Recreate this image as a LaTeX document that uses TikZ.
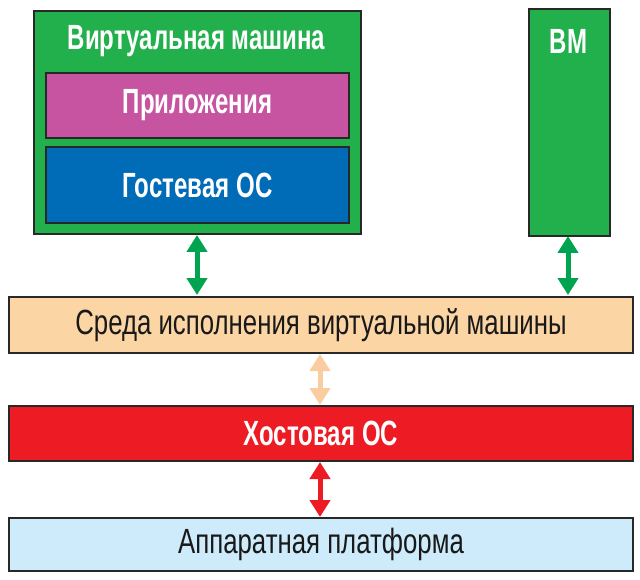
\documentclass[tikz,border=0pt]{standalone}
\usepackage{fontspec}
\setmainfont{Liberation Sans}
\newfontfamily\regfont[FakeStretch=0.737]{Liberation Sans}
\newfontfamily\boldfont[FakeStretch=0.687]{Liberation Sans Bold}
\usetikzlibrary{arrows.meta}
\definecolor{vmgreen}{RGB}{34,176,76}
\definecolor{appmag}{RGB}{198,84,160}
\definecolor{osblue}{RGB}{0,108,183}
\definecolor{peach}{RGB}{252,213,165}
\definecolor{hostred}{RGB}{237,28,36}
\definecolor{hwblue}{RGB}{205,235,250}
\definecolor{arrgreen}{RGB}{0,163,80}
\definecolor{arrpeach}{RGB}{250,205,160}
\definecolor{edge}{RGB}{40,40,40}
\tikzset{
  box/.style={draw=edge, line width=2pt, anchor=north west, inner sep=0pt},
  boldlbl/.style={text=white, font=\boldfont\fontsize{35}{35}\selectfont, inner sep=0pt},
  lbl/.style={text=black!90, font=\regfont\fontsize{35}{35}\selectfont, inner sep=0pt},
  dbl/.style={line width=5pt, {Triangle[width=20pt,length=17pt]}-{Triangle[width=20pt,length=17pt]}, shorten <=0pt, shorten >=0pt}
}
\begin{document}
\begin{tikzpicture}[x=1pt,y=-1pt]
\useasboundingbox (0,0) rectangle (640,580);
\node[box, fill=vmgreen, minimum width=327pt, minimum height=223pt] (vm) at (33,10) {};
\node[boldlbl] (vmt) at (196.5,41) {Виртуальная машина};
\node[box, fill=appmag, minimum width=303pt, minimum height=65pt] (app) at (45,72) {};
\node[boldlbl] at (app.center) {Приложения};
\node[box, fill=osblue, minimum width=303pt, minimum height=76pt] (gos) at (45,146) {};
\node[boldlbl] at (gos.center) {Гостевая ОС};
\node[box, fill=vmgreen, minimum width=81pt, minimum height=227pt] (vm2) at (528,8) {};
\node[boldlbl] (vm2t) at (568.5,41) {ВМ};
\node[box, fill=peach, minimum width=624pt, minimum height=56pt] (rt) at (8,296) {};
\node[lbl] at (rt.center) {Среда исполнения виртуальной машины};
\node[box, fill=hostred, minimum width=624pt, minimum height=55pt] (host) at (8,405) {};
\node[boldlbl] at (host.center) {Хостовая ОС};
\node[box, fill=hwblue, minimum width=624pt, minimum height=53pt] (hw) at (8,517) {};
\node[lbl] at (hw.center) {Аппаратная платформа};
\coordinate (a1) at (197,235);
\coordinate (b1) at (197,295);
\coordinate (a2) at (568,236);
\coordinate (b2) at (568,295);
\draw[dbl, arrgreen] (a1) -- (b1);
\draw[dbl, arrgreen] (a2) -- (b2);
\draw[dbl, arrpeach] (rt.south -| 320,0) -- (host.north -| 320,0);
\draw[dbl, hostred] (host.south -| 320,0) -- (hw.north -| 320,0);
\end{tikzpicture}
\end{document}
